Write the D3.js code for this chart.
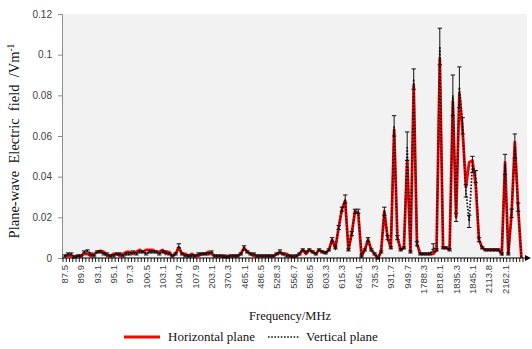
<!DOCTYPE html>
<html><head><meta charset="utf-8">
<script src="https://cdn.jsdelivr.net/npm/d3@7"></script>
<style>body{margin:0;background:#fff}svg{display:block}</style>
</head><body><svg id="c" width="532" height="349"></svg>
<script>
// tick labels shown on the category axis (every 5th frequency, MHz)
const tickLabels = ["87.5","89.9","93.1","95.1","97.3","100.5","103.1","104.7","107.9","203.1","370.3","465.1","486.5","528.3","556.7","586.5","603.3","615.3","645.1","735.3","931.7","949.7","1788.3","1818.1","1835.3","1845.1","2113.8","2162.1"];
const labelEvery = 5;
// Horizontal plane field (V/m), one value per measured frequency
const horizontal = [
0.001,0.001,0.001,0.0005,0.001,0.001,0.002,0.002,0.001,0.002,
0.003,0.0035,0.003,0.001,0.001,0.002,0.002,0.001,0.002,0.003,
0.003,0.002,0.003,0.004,0.003,0.004,0.004,0.004,0.003,0.003,
0.004,0.002,0.003,0.001,0.002,0.005,0.002,0.002,0.001,0.002,
0.001,0.001,0.002,0.002,0.003,0.002,0.001,0.001,0.001,0.0005,
0.001,0.001,0.001,0.001,0.002,0.005,0.003,0.002,0.001,0.001,
0.001,0.001,0.001,0.001,0.001,0.002,0.003,0.002,0.002,0.001,
0.0005,0.001,0.002,0.004,0.002,0.004,0.003,0.002,0.004,0.003,
0.0025,0.004,0.009,0.005,0.015,0.024,0.028,0.004,0.012,0.023,
0.022,0.001,0.004,0.009,0.004,0.002,0.000,0.003,0.023,0.010,
0.005,0.063,0.010,0.004,0.005,0.048,0.003,0.085,0.007,0.002,
0.002,0.002,0.002,0.002,0.004,0.098,0.005,0.005,0.004,0.077,
0.020,0.081,0.062,0.035,0.047,0.048,0.036,0.009,0.005,0.004,
0.004,0.004,0.004,0.004,0.002,0.047,0.002,0.022,0.057,0.025,
0.000];
// Vertical plane field (V/m)
const vertical = [
0.001,0.002,0.002,0.0005,0.001,0.001,0.003,0.0035,0.002,0.001,
0.003,0.003,0.002,0.002,0.001,0.001,0.002,0.002,0.001,0.002,
0.002,0.003,0.002,0.003,0.003,0.002,0.003,0.003,0.003,0.002,
0.003,0.003,0.002,0.001,0.002,0.006,0.002,0.001,0.001,0.001,
0.001,0.002,0.002,0.002,0.002,0.003,0.001,0.001,0.001,0.001,
0.0005,0.001,0.001,0.001,0.002,0.005,0.003,0.002,0.002,0.001,
0.001,0.001,0.001,0.001,0.001,0.002,0.003,0.002,0.001,0.001,
0.001,0.001,0.002,0.004,0.003,0.004,0.003,0.002,0.004,0.003,
0.0025,0.004,0.009,0.005,0.015,0.024,0.029,0.004,0.012,0.023,
0.023,0.001,0.004,0.009,0.004,0.002,0.000,0.003,0.023,0.010,
0.005,0.065,0.010,0.004,0.005,0.055,0.003,0.088,0.007,0.002,
0.002,0.002,0.002,0.005,0.004,0.104,0.005,0.005,0.004,0.080,
0.020,0.084,0.065,0.033,0.018,0.046,0.040,0.009,0.005,0.004,
0.004,0.004,0.004,0.004,0.002,0.046,0.002,0.022,0.055,0.025,
0.000];
// error (± V/m) on the vertical plane values
const verticalErr = [
0.0005,0.0005,0.0005,0.0005,0.0005,0.0005,0.0005,0.0005,0.0005,0.0005,
0.0005,0.0005,0.0005,0.0005,0.0005,0.0005,0.0005,0.0005,0.0005,0.0005,
0.0005,0.0005,0.0005,0.0005,0.0005,0.0005,0.0005,0.0005,0.0005,0.0005,
0.0005,0.0005,0.0005,0.0005,0.0005,0.001,0.0005,0.0005,0.0005,0.0005,
0.0005,0.0005,0.0005,0.0005,0.0005,0.0005,0.0005,0.0005,0.0005,0.0005,
0.0005,0.0005,0.0005,0.0005,0.0005,0.001,0.0005,0.0005,0.0005,0.0005,
0.0005,0.0005,0.0005,0.0005,0.0005,0.0005,0.001,0.0005,0.0005,0.0005,
0.0005,0.0005,0.0005,0.0005,0.0005,0.0005,0.0005,0.0005,0.0005,0.0005,
0.0005,0.0005,0.001,0.0005,0.001,0.001,0.002,0.0005,0.001,0.001,
0.001,0.0005,0.0005,0.001,0.0005,0.0005,0.0005,0.0005,0.002,0.001,
0.0005,0.005,0.001,0.0005,0.0005,0.007,0.0005,0.005,0.001,0.0005,
0.0005,0.0005,0.0005,0.002,0.0005,0.009,0.0005,0.0005,0.0005,0.010,
0.002,0.010,0.004,0.003,0.003,0.004,0.003,0.001,0.0005,0.0005,
0.0005,0.0005,0.0005,0.0005,0.0005,0.005,0.0005,0.002,0.006,0.002,
0.000];
const yTicks = [0,0.02,0.04,0.06,0.08,0.1,0.12];
const seriesNames = ["Horizontal plane","Vertical plane"];

const svg = d3.select("#c");
const L=62, R=527, T=14, B=258;
const idx = d3.range(horizontal.length);
const x = d3.scaleBand().domain(idx).range([63, 523]).padding(0);
const cx = i => x(i) + x.bandwidth()/2;
const y = d3.scaleLinear().domain([0,0.12]).range([B,T]);

svg.append("rect").attr("x",L).attr("y",T).attr("width",R-L).attr("height",B-T).attr("fill","#f2f2f2");

// y axis
const ya = svg.append("g").attr("transform",`translate(${L},0)`)
  .call(d3.axisLeft(y).tickValues(yTicks).tickSize(4).tickPadding(6).tickFormat(d=>d===0?"0":String(+d.toFixed(2))));
ya.select(".domain").attr("stroke","#8c8c8c");
ya.selectAll(".tick line").attr("stroke","#8c8c8c");
ya.selectAll("text").attr("font-family","Liberation Sans, Arial, sans-serif").attr("font-size","10px").attr("fill","#404040");

// lines
const line = d3.line().x((d,i)=>cx(i)).y(d=>y(d));
svg.append("path").datum(horizontal).attr("d",line).attr("fill","none").attr("stroke","#ff0000").attr("stroke-width",2.8).attr("stroke-linejoin","round");
svg.append("path").datum(vertical).attr("d",line).attr("fill","none").attr("stroke","#111").attr("stroke-width",1.7).attr("stroke-dasharray","1.6,1.6");

// error bars
const eb = svg.append("g").attr("stroke","#111").attr("stroke-width",1);
idx.forEach(i=>{
  const e = verticalErr[i]; if(!e) return;
  const v = vertical[i], c = cx(i);
  eb.append("line").attr("x1",c).attr("x2",c).attr("y1",y(v-e)).attr("y2",y(v+e));
  eb.append("line").attr("x1",c-2.2).attr("x2",c+2.2).attr("y1",y(v+e)).attr("y2",y(v+e));
  eb.append("line").attr("x1",c-2.2).attr("x2",c+2.2).attr("y1",y(v-e)).attr("y2",y(v-e));
});

// x axis
const defs = svg.append("defs");
defs.append("marker").attr("id","arr").attr("viewBox","0 0 10 10").attr("refX",2).attr("refY",5)
  .attr("markerWidth",5).attr("markerHeight",5).attr("orient","auto")
  .append("path").attr("d","M0,0 L10,5 L0,10 Z").attr("fill","#000");
const xa = svg.append("g").attr("transform",`translate(0,${B})`);
xa.append("line").attr("x1",L).attr("x2",526).attr("y1",0).attr("y2",0).attr("stroke","#000").attr("stroke-width",1.2).attr("marker-end","url(#arr)");
xa.selectAll("line.tk").data(idx.concat([horizontal.length])).enter().append("line").attr("class","tk")
  .attr("x1",i=>i<horizontal.length?x(i):x(horizontal.length-1)+x.bandwidth())
  .attr("x2",i=>i<horizontal.length?x(i):x(horizontal.length-1)+x.bandwidth())
  .attr("y1",0).attr("y2",4).attr("stroke","#000").attr("stroke-width",0.9);
xa.selectAll("text.lb").data(tickLabels).enter().append("text").attr("class","lb")
  .attr("transform",(d,k)=>`translate(${cx(k*labelEvery)+3.5},${7}) rotate(-90)`)
  .attr("text-anchor","end").attr("font-family","Liberation Sans, Arial, sans-serif").attr("font-size","9.5px").attr("fill","#404040")
  .text(d=>d);

// titles
const serif = "Liberation Serif, Times New Roman, serif";
svg.append("text").attr("x",290).attr("y",320).attr("text-anchor","middle").attr("font-family",serif).attr("font-size","12.5px").attr("fill","#111").text("Frequency/MHz");
const yt = svg.append("text").attr("transform","translate(19,141) rotate(-90)").attr("text-anchor","middle").attr("font-family",serif).attr("font-size","14.5px").attr("fill","#111").style("white-space","pre");
yt.append("tspan").text("Plane-wave  Electric  field  /Vm");
yt.append("tspan").attr("dy",-5).attr("font-size","9.5px").text("-1");

// legend
const lg = svg.append("g").attr("font-family",serif).attr("font-size","13px").attr("fill","#111");
lg.append("line").attr("x1",124).attr("x2",160).attr("y1",337).attr("y2",337).attr("stroke","#ff0000").attr("stroke-width",2.8);
lg.append("text").attr("x",168).attr("y",341).text(seriesNames[0]);
lg.append("line").attr("x1",268).attr("x2",300).attr("y1",337).attr("y2",337).attr("stroke","#111").attr("stroke-width",1.7).attr("stroke-dasharray","1.6,1.6");
lg.append("text").attr("x",306).attr("y",341).text(seriesNames[1]);
</script></body></html>
